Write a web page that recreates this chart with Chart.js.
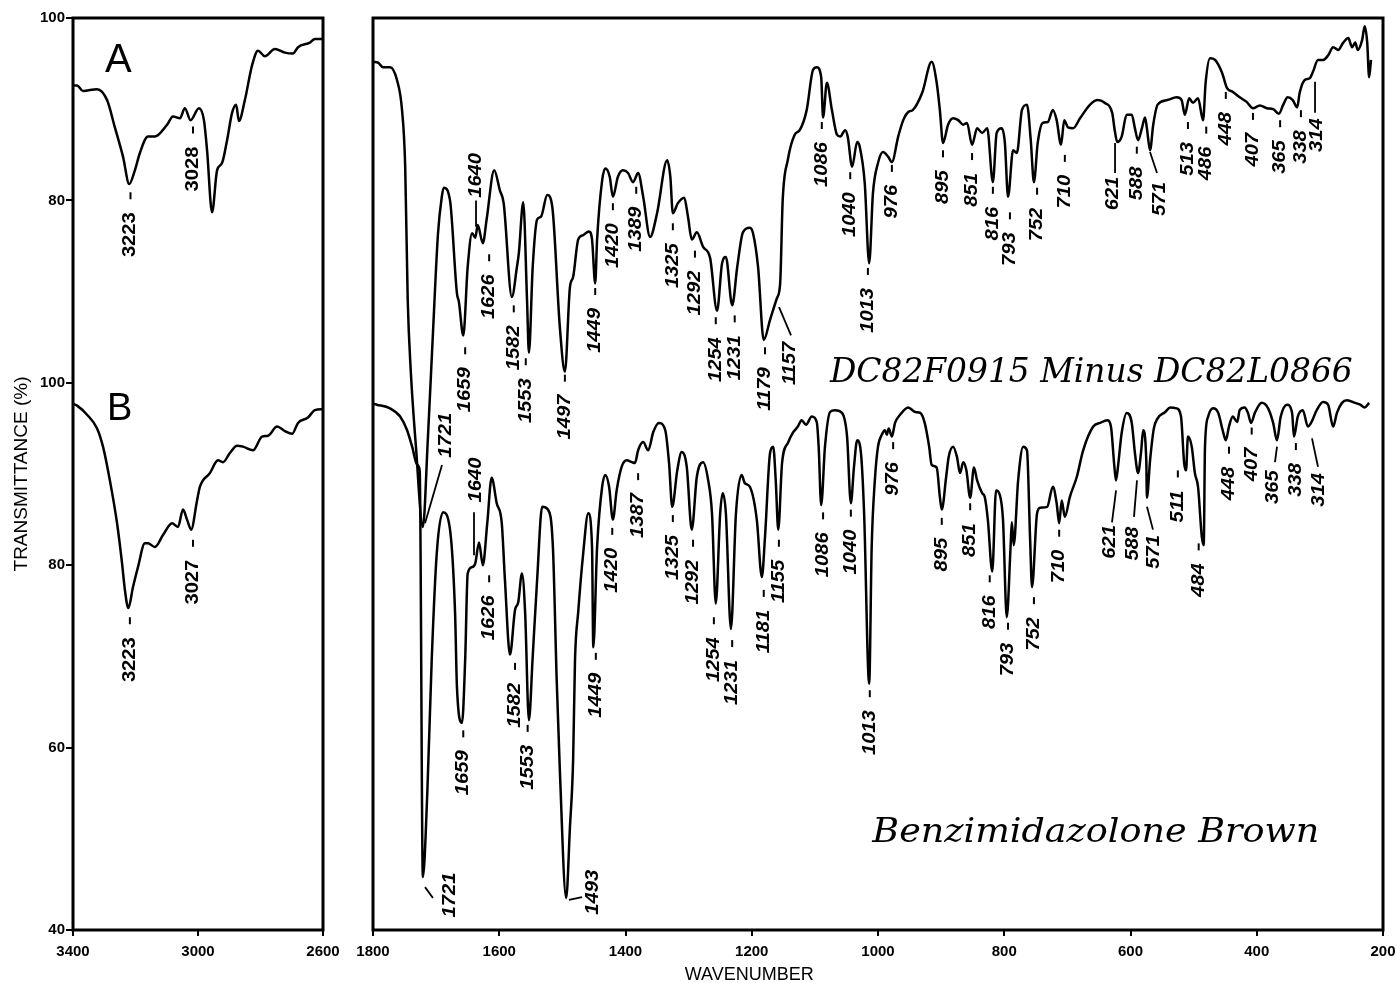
<!DOCTYPE html>
<html><head><meta charset="utf-8">
<script src="https://cdn.jsdelivr.net/npm/chart.js@4.4.1/dist/chart.umd.min.js"></script>
<style>
html,body{margin:0;padding:0;background:#fff;overflow:hidden;width:1396px;height:983px}
#left{position:absolute;left:0;top:0}
#right{position:absolute;left:345px;top:0}
</style></head><body>
<canvas id="left" width="360" height="983"></canvas>
<canvas id="right" width="1060" height="983"></canvas>
<script>
// spectrum A (DC82F0915 minus DC82L0866) is plotted 40 %T above spectrum B
var OFFSET_A=40;

// [wavenumber, %T]
var aLeft=[[3400,92.6],[3387,92.6],[3368,92.0],[3323,92.2],[3291,91.0],[3266,88.0],[3240,84.8],[3220,81.8],[3202,83.3],[3186,85.2],[3160,87.0],[3138,87.0],[3099,88.3],[3080,89.2],[3058,89.0],[3042,90.1],[3024,88.8],[2997,90.1],[2981,88.8],[2971,85.5],[2955,78.7],[2939,83.3],[2923,84.1],[2907,86.6],[2891,89.6],[2878,90.5],[2869,88.7],[2850,91.0],[2827,94.8],[2808,96.4],[2786,95.8],[2754,96.6],[2722,96.2],[2696,96.1],[2680,96.8],[2642,97.3],[2626,97.7],[2600,97.7]];
var bLeft=[[3400,97.7],[3387,97.5],[3355,96.5],[3323,95.0],[3304,93.0],[3282,89.3],[3259,84.6],[3243,80.2],[3234,77.3],[3223,75.3],[3208,77.6],[3192,79.8],[3170,82.4],[3160,82.4],[3138,82.0],[3112,83.3],[3083,84.6],[3064,84.2],[3048,86.1],[3035,85.0],[3022,83.9],[3003,87.1],[2994,88.6],[2962,90.1],[2936,91.5],[2920,91.3],[2898,92.3],[2875,93.1],[2856,93.0],[2824,92.6],[2795,94.1],[2776,94.2],[2747,95.2],[2722,94.7],[2699,94.4],[2680,95.6],[2648,96.2],[2626,97.0],[2600,97.1]];
var aRight=[[1800,95.2],[1792,95.1],[1784,94.6],[1773,94.6],[1762,93.2],[1754,89.9],[1749,83.7],[1745,69.1],[1740,61.1],[1732,53.0],[1721,44.2],[1713,54.0],[1705,65.5],[1697,76.4],[1691,80.4],[1688,81.4],[1678,80.0],[1667,69.8],[1664,68.9],[1657,65.2],[1650,72.7],[1643,76.4],[1638,75.9],[1634,77.3],[1626,75.3],[1620,77.9],[1608,83.3],[1599,81.1],[1593,79.7],[1580,69.4],[1572,72.7],[1569,74.2],[1562,79.8],[1556,69.1],[1553,63.3],[1547,72.7],[1540,77.9],[1534,78.2],[1524,80.6],[1516,79.3],[1504,66.1],[1496,61.2],[1488,70.5],[1483,71.6],[1475,75.7],[1467,76.2],[1458,76.6],[1453,75.7],[1448,70.9],[1445,75.7],[1437,82.2],[1432,83.5],[1425,82.6],[1420,80.4],[1412,82.6],[1404,83.3],[1396,83.0],[1388,82.0],[1380,83.0],[1372,80.4],[1361,76.0],[1350,78.6],[1334,84.4],[1329,82.6],[1325,78.6],[1317,79.7],[1307,80.3],[1301,78.2],[1295,75.7],[1287,76.5],[1277,74.9],[1266,73.7],[1255,67.9],[1247,73.1],[1241,73.8],[1231,68.5],[1223,72.7],[1214,76.5],[1203,77.0],[1198,76.4],[1190,72.7],[1181,64.7],[1171,66.9],[1160,69.3],[1155,70.9],[1151,80.0],[1143,84.4],[1132,87.2],[1124,87.7],[1113,89.9],[1103,94.3],[1097,94.6],[1090,93.5],[1087,89.1],[1081,92.9],[1073,89.9],[1065,87.2],[1060,87.0],[1052,87.7],[1048,87.0],[1041,83.7],[1033,86.4],[1029,85.9],[1021,81.9],[1014,73.1],[1008,80.8],[1000,84.1],[992,85.3],[984,84.8],[978,84.2],[968,87.0],[960,88.8],[952,89.7],[945,89.9],[930,91.8],[915,95.2],[907,92.9],[902,89.9],[897,86.3],[889,88.3],[881,89.0],[873,88.8],[865,88.3],[859,88.5],[851,86.1],[843,87.9],[835,87.4],[827,87.9],[818,82.0],[812,87.4],[804,87.9],[799,86.3],[794,80.4],[786,85.5],[780,85.2],[772,89.9],[764,90.5],[758,86.6],[753,82.0],[747,86.3],[739,88.5],[731,88.6],[723,89.9],[717,88.8],[710,86.1],[705,88.8],[699,88.0],[691,87.9],[680,89.0],[664,90.5],[652,91.0],[641,90.7],[629,89.6],[625,87.7],[621,86.4],[614,87.0],[606,89.4],[598,89.4],[593,87.9],[588,86.6],[582,87.9],[577,89.1],[574,87.9],[569,85.5],[564,88.3],[557,90.5],[542,91.0],[527,91.3],[519,91.0],[514,89.4],[507,91.2],[501,90.7],[493,91.2],[485,88.8],[481,92.9],[474,95.6],[466,95.4],[455,94.0],[447,92.3],[438,91.9],[427,91.3],[416,90.8],[406,90.1],[395,90.4],[384,90.1],[374,90.0],[365,89.5],[358,90.5],[351,91.3],[343,91.0],[336,90.2],[332,91.8],[324,93.2],[316,93.4],[311,94.1],[303,95.4],[295,95.4],[287,95.9],[279,96.8],[271,96.5],[263,97.3],[255,97.8],[249,96.8],[244,97.3],[240,96.5],[233,97.6],[229,99.1],[225,97.3],[222,93.5],[219,95.4]];
var bRight=[[1800,97.7],[1794,97.6],[1773,97.2],[1757,96.3],[1746,94.8],[1738,93.0],[1730,91.0],[1726,90.4],[1721,45.8],[1714,55.0],[1707,69.6],[1699,81.3],[1689,85.8],[1678,83.9],[1670,74.8],[1667,66.6],[1659,62.7],[1654,69.6],[1650,79.1],[1643,79.8],[1638,80.2],[1632,82.5],[1626,80.0],[1619,84.6],[1612,89.6],[1604,86.8],[1596,84.6],[1591,78.4],[1583,70.2],[1575,75.1],[1570,75.9],[1564,79.1],[1559,74.8],[1553,63.0],[1547,70.0],[1540,78.4],[1532,86.4],[1523,86.1],[1515,82.0],[1509,67.4],[1504,57.5],[1494,43.5],[1488,51.3],[1483,58.6],[1480,69.6],[1475,74.8],[1467,81.3],[1459,85.7],[1453,82.0],[1451,71.0],[1445,82.0],[1437,88.6],[1432,89.9],[1426,88.6],[1420,85.0],[1414,88.2],[1406,90.8],[1398,91.5],[1390,91.3],[1385,91.2],[1380,92.6],[1372,93.5],[1364,92.6],[1356,94.6],[1347,95.6],[1337,94.8],[1331,91.2],[1326,86.4],[1318,90.4],[1311,92.4],[1303,90.8],[1295,83.9],[1287,89.7],[1277,91.3],[1269,89.3],[1263,85.7],[1257,75.8],[1250,85.7],[1246,87.9],[1241,85.7],[1233,73.0],[1225,85.7],[1216,89.9],[1211,89.0],[1203,88.6],[1192,85.0],[1184,78.7],[1179,83.1],[1171,92.3],[1166,93.0],[1162,89.3],[1158,83.9],[1152,91.2],[1142,93.5],[1135,94.5],[1127,95.2],[1121,95.9],[1114,95.4],[1105,96.3],[1097,95.7],[1094,93.0],[1090,86.6],[1084,93.0],[1076,96.8],[1068,97.0],[1057,96.7],[1049,94.1],[1043,86.8],[1038,90.8],[1033,93.7],[1027,92.3],[1022,85.7],[1014,67.0],[1010,82.0],[1005,89.3],[1000,93.0],[994,94.3],[989,94.8],[986,94.3],[983,95.0],[978,94.1],[973,95.6],[965,96.5],[952,97.3],[941,96.8],[933,96.7],[926,95.6],[919,93.0],[915,91.0],[907,90.7],[902,87.5],[899,86.1],[892,89.7],[888,91.9],[881,93.0],[875,91.9],[870,90.1],[865,91.3],[860,90.4],[854,87.4],[848,90.7],[843,89.3],[835,87.9],[831,87.5],[826,85.0],[819,79.3],[813,88.2],[807,87.7],[802,85.0],[796,74.3],[790,82.0],[788,84.7],[785,82.2],[778,89.3],[770,93.0],[764,92.6],[759,82.8],[756,77.6],[748,85.7],[743,86.3],[732,86.4],[723,88.6],[717,86.8],[713,84.6],[709,87.1],[704,85.3],[696,87.5],[685,89.7],[675,92.6],[659,95.2],[648,95.6],[637,95.9],[631,95.2],[626,91.2],[623,89.3],[620,90.7],[614,94.5],[606,96.7],[598,95.6],[593,92.3],[588,90.1],[583,92.6],[580,94.8],[575,91.5],[574,87.4],[569,91.5],[563,95.0],[557,96.1],[545,96.8],[537,97.3],[527,97.2],[520,96.3],[515,91.2],[512,90.4],[509,94.1],[503,93.0],[498,90.1],[493,88.6],[487,83.1],[484,82.2],[482,93.0],[477,96.3],[469,97.2],[461,96.7],[454,94.8],[449,93.7],[444,95.2],[438,96.3],[431,95.7],[427,97.0],[419,97.3],[414,96.7],[409,95.6],[403,96.7],[392,97.8],[382,97.2],[374,95.6],[368,93.7],[362,96.3],[352,97.6],[344,96.7],[341,94.1],[335,96.3],[327,97.0],[319,95.2],[314,95.6],[305,97.0],[295,97.9],[287,97.6],[279,95.2],[273,96.7],[265,97.8],[257,98.1],[244,97.8],[236,97.6],[229,97.3],[222,97.8]];

var yTicks=[40,60,80,100,120,140];
var yTickText=['40','60','80','100','80','100'];
var xTicksLeft=[3400,3000,2600];
var xTicksRight=[1800,1600,1400,1200,1000,800,600,400,200];

// peak labels: [text, wavenumber of label, %T at label end nearest the peak, 'd' = short dash]
var peaksALeft=[['3223',3216,78.7,'d'],['3028',3016,85.9,'d']];
var peaksBLeft=[['3223',3218,72.1,'d'],['3027',3016,80.6,'d']];
var peaksARight=[['1721',1684,56.7],['1659',1654,61.7,'d'],['1640',1637,85.2],['1626',1616,71.9,'d'],['1582',1577,66.3,'d'],['1553',1558,60.5,'d'],['1497',1496,58.7,'d'],['1449',1448,68.2,'d'],['1420',1420,77.5,'d'],['1389',1383,79.3,'d'],['1325',1325,75.3,'d'],['1292',1290,72.3,'d'],['1254',1257,65.0,'d'],['1231',1227,65.2,'d'],['1179',1179,61.7,'d'],['1157',1139,64.5],['1086',1089,86.4,'d'],['1040',1044,80.9,'d'],['1013',1016,70.4,'d'],['976',978,81.7,'d'],['895',897,83.3,'d'],['851',851,83.0,'d'],['816',818,79.3,'d'],['793',791,76.5,'d'],['752',748,79.2,'d'],['710',704,82.8,'d'],['621',628,82.6],['588',590,83.7,'d'],['571',553,82.0],['513',509,86.4,'d'],['486',480,85.9,'d'],['448',449,89.7,'d'],['407',406,87.4,'d'],['365',363,86.6,'d'],['338',330,87.7,'d'],['314',305,89.0]];
var peaksBRight=[['1721',1678,46.3],['1659',1657,59.7,'d'],['1640',1637,91.8],['1626',1616,76.7,'d'],['1582',1575,67.1,'d'],['1553',1555,60.3,'d'],['1493',1452,46.6],['1449',1447,68.2,'d'],['1420',1421,81.9,'d'],['1387',1380,87.9,'d'],['1325',1325,83.3,'d'],['1292',1293,80.6,'d'],['1254',1260,72.1,'d'],['1231',1231,69.6,'d'],['1181',1181,75.1,'d'],['1155',1157,80.6,'d'],['1086',1087,83.6,'d'],['1040',1043,83.9,'d'],['1013',1013,64.1,'d'],['976',976,91.3,'d'],['895',899,83.0,'d'],['851',854,84.6,'d'],['816',823,76.7,'d'],['793',794,71.5,'d'],['752',753,74.3,'d'],['710',713,81.7,'d'],['621',633,84.4],['588',596,84.2],['571',563,83.3],['511',525,88.2,'d'],['484',492,80.2,'d'],['448',444,90.8,'d'],['407',408,92.9,'d'],['365',374,90.4],['338',338,91.2,'d'],['314',301,90.1]];
// leader lines: [wn1, %T1, wn2, %T2]
var leadA=[[1690.7,51.0,1717.6,44.6],[1636.8,80.0,1636.8,77.1],[1156.8,68.3,1137.8,65.2],[624.5,86.3,624.5,83.0],[569.1,85.3,558.0,83.0],[307.7,93.0,307.7,89.6]];
var leadB=[[1717.6,44.7,1705.0,43.5],[1640.0,85.8,1640.0,81.1],[1489.5,43.3,1468.9,43.6],[622.9,88.2,629.3,84.7],[589.7,89.3,594.5,85.3],[573.9,86.4,564.4,83.9],[367.9,93.0,371.1,91.3],[312.5,93.9,303.0,90.8]];

function pts(arr,off){return arr.map(function(p){return {x:p[0],y:p[1]+off};});}

function fitText(ctx,txt,x,y,w){
  var m=ctx.measureText(txt).width;
  ctx.save();ctx.translate(x,y);ctx.scale(w/m,1);ctx.textAlign='left';ctx.fillText(txt,0,0);ctx.restore();
}

var annot={
  id:'annot',
  afterDatasetsDraw:function(ch,args,o){
    var ctx=ch.ctx,sx=ch.scales.x,sy=ch.scales.y,ca=ch.chartArea;
    ctx.save();
    ctx.strokeStyle='#000';ctx.fillStyle='#000';
    ctx.lineWidth=3;
    ctx.strokeRect(ca.left,ca.top,ca.right-ca.left,ca.bottom-ca.top);
    o.sets.forEach(function(s){
      ctx.font=o.font;
      s.peaks.forEach(function(p){
        var px=sx.getPixelForValue(p[1]),py=sy.getPixelForValue(p[2]+s.off);
        ctx.save();ctx.translate(px,py);ctx.rotate(-Math.PI/2);ctx.scale(1.12,1);
        ctx.textAlign='right';ctx.textBaseline='middle';ctx.fillText(p[0],0,0);
        ctx.restore();
        if(p[3]==='d'){ctx.lineWidth=2;ctx.beginPath();ctx.moveTo(px,py-20);ctx.lineTo(px,py-13);ctx.stroke();}
      });
      ctx.lineWidth=1.8;
      s.lines.forEach(function(l){
        ctx.beginPath();
        ctx.moveTo(sx.getPixelForValue(l[0]),sy.getPixelForValue(l[1]+s.off));
        ctx.lineTo(sx.getPixelForValue(l[2]),sy.getPixelForValue(l[3]+s.off));
        ctx.stroke();
      });
    });
    o.texts.forEach(function(t){
      ctx.font=t.font;ctx.textBaseline='alphabetic';
      var x1=sx.getPixelForValue(t.x1),y1=sy.getPixelForValue(t.y);
      if(t.x2!==undefined){fitText(ctx,t.text,x1,y1,sx.getPixelForValue(t.x2)-x1);}
      else{ctx.textAlign=t.align||'left';ctx.fillText(t.text,x1,y1);}
    });
    ctx.restore();
  }
};

var tickFont={family:'"Liberation Sans", Arial, sans-serif',size:15,weight:'bold'};

function xScale(lo,hi,list){
  return {type:'linear',reverse:true,min:lo,max:hi,
    afterBuildTicks:function(s){s.ticks=list.map(function(v){return {value:v};});},
    afterFit:function(s){s.height=53;},
    ticks:{color:'#000',font:tickFont,padding:7,maxRotation:0,autoSkip:false,callback:function(v){return String(v);}},
    grid:{drawOnChartArea:false,drawTicks:true,tickLength:6,color:'#000',lineWidth:2},
    border:{display:false}};
}

function lineSet(data){
  return {data:data,borderColor:'#000',borderWidth:2.5,pointRadius:0,fill:false,
    cubicInterpolationMode:'monotone',borderJoinStyle:'round'};
}

new Chart(document.getElementById('left'),{
  type:'line',
  data:{datasets:[lineSet(pts(aLeft,OFFSET_A)),lineSet(pts(bLeft,0))]},
  options:{
    responsive:false,animation:false,events:[],
    layout:{padding:{left:0,right:37,top:18,bottom:0}},
    plugins:{legend:{display:false},tooltip:{enabled:false},
      annot:{font:'bold 18px "Liberation Sans", Arial, sans-serif',
        sets:[{peaks:peaksALeft,lines:[],off:OFFSET_A},{peaks:peaksBLeft,lines:[],off:0}],
        texts:[{text:'A',x1:3298,y:134.1,font:'40px "Liberation Sans", Arial, sans-serif'},
               {text:'B',x1:3291,y:95.9,font:'38px "Liberation Sans", Arial, sans-serif'}]}},
    scales:{
      x:xScale(2600,3400,xTicksLeft),
      y:{type:'linear',min:40,max:140,
        afterBuildTicks:function(s){s.ticks=yTicks.map(function(v){return {value:v};});},
        afterFit:function(s){s.width=73;},
        ticks:{color:'#000',font:tickFont,padding:1,callback:function(v){return yTickText[yTicks.indexOf(v)];}},
        grid:{drawOnChartArea:false,drawTicks:true,tickLength:7,color:'#000',lineWidth:2},
        border:{display:false},
        title:{display:true,text:'TRANSMITTANCE (%)',color:'#000',padding:{top:10,bottom:0},
          font:{family:'"Liberation Sans", Arial, sans-serif',size:19}}}
    }
  },
  plugins:[annot]
});

new Chart(document.getElementById('right'),{
  type:'line',
  data:{datasets:[lineSet(pts(aRight,OFFSET_A)),lineSet(pts(bRight,0))]},
  options:{
    responsive:false,animation:false,events:[],
    layout:{padding:{left:28,right:22,top:18,bottom:0}},
    plugins:{legend:{display:false},tooltip:{enabled:false},
      annot:{font:'italic bold 18px "Liberation Sans", Arial, sans-serif',
        sets:[{peaks:peaksARight,lines:leadA,off:OFFSET_A},{peaks:peaksBRight,lines:leadB,off:0}],
        texts:[{text:'DC82F0915 Minus DC82L0866',x1:1076,x2:248,y:100.1,font:'italic 33px "DejaVu Serif", serif'},
               {text:'Benzimidazolone Brown',x1:1009,x2:301,y:49.6,font:'italic 33px "DejaVu Serif", serif'},
               {text:'WAVENUMBER',x1:1204,y:34.5,align:'center',font:'18px "Liberation Sans", Arial, sans-serif'}]}},
    scales:{
      x:xScale(200,1800,xTicksRight),
      y:{type:'linear',min:40,max:140,display:false}
    }
  },
  plugins:[annot]
});
</script>
</body></html>
